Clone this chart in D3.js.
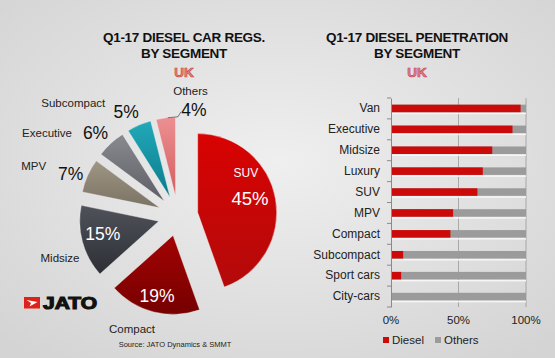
<!DOCTYPE html>
<html>
<head>
<meta charset="utf-8">
<script src="https://cdn.jsdelivr.net/npm/d3@7"></script>
<style>
  body { margin: 0; }
  svg { display: block; font-family: "Liberation Sans", Arial, sans-serif; }
</style>
</head>
<body>
<svg id="chart" width="555" height="358"></svg>
<script>
// pie data: diesel registrations by segment
const segments = ["SUV", "Compact", "Midsize", "MPV", "Executive", "Subcompact", "Others"];
const shares = [45, 19, 15, 7, 6, 5, 4];

// bar data: diesel penetration by segment (% diesel)
const barCategories = ["Van", "Executive", "Midsize", "Luxury", "SUV", "MPV", "Compact", "Subcompact", "Sport cars", "City-cars"];
const dieselShare = [96, 90, 75, 68, 64, 46, 44, 9, 7.5, 0.5];
const xTicks = [0, 50, 100];

const svg = d3.select("#chart");
const defs = svg.append("defs");

// background
const bg = defs.append("radialGradient").attr("id", "bg").attr("cx", "50%").attr("cy", "45%").attr("r", "70%");
bg.append("stop").attr("offset", "0%").attr("stop-color", "#efefef");
bg.append("stop").attr("offset", "100%").attr("stop-color", "#d4d4d4");
svg.append("rect").attr("width", 555).attr("height", 358).attr("fill", "url(#bg)");

// titles
function title(x, lines) {
    let t = svg.append("g").attr("text-anchor", "middle");
    lines.forEach(function (l, i) {
        t.append("text").attr("x", x).attr("y", 42 + i * 16)
            .attr("font-size", 13.5).attr("font-weight", "bold").attr("fill", "#111")
            .attr("letter-spacing", -0.3).text(l);
    });
    t.append("text").attr("x", x).attr("y", 76.5)
        .attr("font-size", 13.5).attr("font-weight", "bold")
        .attr("fill", "#e5878a").attr("stroke", "#c8474b").attr("stroke-width", 0.7)
        .text("UK");
}
title(184, ["Q1-17 DIESEL CAR REGS.", "BY SEGMENT"]);
title(417, ["Q1-17 DIESEL PENETRATION", "BY SEGMENT"]);

// ---------- pie ----------
const cx = 178, cy = 216, radius = 79, explode = 20;
const sliceColors = [
    ["#d90202", "#b30a0a"],
    ["#a30303", "#760000"],
    ["#50525b", "#2d2f35"],
    ["#9f9684", "#7a7263"],
    ["#898a8f", "#5e5f64"],
    ["#22a9b9", "#0a7b8b"],
    ["#ec9091", "#d45c60"]
];
sliceColors.forEach(function (c, i) {
    let g = defs.append("linearGradient").attr("id", "sl" + i)
        .attr("x1", 0).attr("y1", 0).attr("x2", 0).attr("y2", 1);
    g.append("stop").attr("offset", "0%").attr("stop-color", c[0]);
    g.append("stop").attr("offset", "100%").attr("stop-color", c[1]);
});

const pie = d3.pie().sort(null).value(d => d);
const arcs = pie(shares);
const arc = d3.arc().innerRadius(0).outerRadius(radius);

function offset(d, r) {
    let a = (d.startAngle + d.endAngle) / 2;
    return [Math.sin(a) * r, -Math.cos(a) * r];
}

const pieG = svg.append("g").attr("transform", "translate(" + cx + "," + cy + ")");
pieG.selectAll("path.slice")
    .data(arcs)
    .enter()
    .append("path")
    .attr("class", "slice")
    .attr("transform", d => "translate(" + offset(d, explode) + ")")
    .attr("d", arc)
    .attr("fill", (d, i) => "url(#sl" + i + ")")
    .attr("stroke", "#f4f4f4")
    .attr("stroke-opacity", 0.5)
    .attr("stroke-width", 0.8);

// inside labels (big slices): r from centre, extra dx/dy nudges
const insideStyle = {
    0: { r: 75, dx: -2, dy: -5 },
    1: { r: 77, dx: -2, dy: 4 },
    2: { r: 77, dx: -1, dy: -3 }
};
[0, 1, 2].forEach(function (i) {
    let s = insideStyle[i];
    let p = offset(arcs[i], s.r);
    let px = p[0] + s.dx, py = p[1] + s.dy;
    if (i == 0) {
        pieG.append("text").attr("x", px - 4).attr("y", py - 21)
            .attr("text-anchor", "middle").attr("font-size", 12).attr("fill", "#fff")
            .text(segments[i]);
    }
    pieG.append("text").attr("x", px).attr("y", py + 7)
        .attr("text-anchor", "middle").attr("font-size", i == 0 ? 18.5 : 17.5).attr("fill", "#fff")
        .text(shares[i] + "%");
});

// outside name labels for big slices
pieG.append("text").attr("x", 132 - cx).attr("y", 333 - cy).attr("text-anchor", "middle")
    .attr("font-size", 11.5).attr("fill", "#222").text(segments[1]);
pieG.append("text").attr("x", 60 - cx).attr("y", 262 - cy).attr("text-anchor", "middle")
    .attr("font-size", 11.5).attr("fill", "#222").text(segments[2]);

// outside labels (small slices): percent on an outer arc, name beside it
const labelStyle = {
    3: { r: 116, dx: -1.5, dy: 5, nx: -37, ny: -3.5 },
    4: { r: 120, dx: -1, dy: 4.5, nx: -48.5, ny: 4.5 },
    5: { r: 115, dx: -6.5, dy: 1.5, nx: -53, ny: -5 },
    6: { r: 105, dx: 29, dy: -2, nx: -3.5, ny: -15 }
};
[3, 4, 5, 6].forEach(function (i) {
    let s = labelStyle[i];
    let p = offset(arcs[i], s.r);
    let px = p[0] + s.dx, py = p[1] + s.dy;
    pieG.append("text").attr("x", px).attr("y", py + 6.5)
        .attr("text-anchor", "middle").attr("font-size", 17.5).attr("fill", "#111")
        .text(shares[i] + "%");
    pieG.append("text").attr("x", px + s.nx).attr("y", py + s.ny)
        .attr("text-anchor", "middle").attr("font-size", 11.5).attr("fill", "#222")
        .text(segments[i]);
});
// leader line for Others
{
    let a = offset(arcs[6], explode + radius);
    let s = labelStyle[6];
    let p = offset(arcs[6], s.r);
    let px = p[0] + s.dx, py = p[1] + s.dy;
    pieG.append("path")
        .attr("d", "M" + (a[0] + 2) + "," + a[1] + "L" + (px - 16) + "," + (a[1] - 1) + "L" + (px - 13) + "," + (py + 2))
        .attr("fill", "none").attr("stroke", "#555").attr("stroke-width", 0.8);
}

// logo
const logo = svg.append("g").attr("transform", "translate(24,297)");
logo.append("rect").attr("width", 16).attr("height", 11.5).attr("fill", "#e0201b");
logo.append("path").attr("d", "M2.5,3 L13.5,5 L5.5,9.5 L7,6 Z").attr("fill", "#fff");
logo.append("text").attr("x", 19).attr("y", 11.5).attr("font-size", 16.5).attr("font-weight", "bold")
    .attr("fill", "#111").attr("stroke", "#111").attr("stroke-width", 1.1)
    .attr("textLength", 54).attr("lengthAdjust", "spacingAndGlyphs").text("JATO");

svg.append("text").attr("x", 175).attr("y", 347).attr("text-anchor", "middle")
    .attr("font-size", 7.5).attr("fill", "#222").text("Source: JATO Dynamics & SMMT");

// ---------- bars ----------
const x = d3.scaleLinear().domain([0, 100]).range([391, 526]);
const y = d3.scaleBand().domain(barCategories).range([98, 307]).paddingInner(0.64).paddingOuter(0.32);

const barG = svg.append("g");

// gridlines
barG.selectAll("line.grid")
    .data(xTicks.slice(1))
    .enter()
    .append("line")
    .attr("x1", d => x(d)).attr("x2", d => x(d))
    .attr("y1", 98).attr("y2", 307)
    .attr("stroke", "#9a9a9a").attr("stroke-width", 0.8);

const rows = barG.selectAll("g.row")
    .data(barCategories)
    .enter()
    .append("g");

rows.append("rect")
    .attr("x", x(0))
    .attr("y", d => y(d) + y.bandwidth() + 0.5)
    .attr("width", x(100) - x(0))
    .attr("height", 1.5)
    .attr("fill", "#f6f6f6");
rows.append("rect")
    .attr("x", x(0))
    .attr("y", d => y(d))
    .attr("width", x(100) - x(0))
    .attr("height", y.bandwidth())
    .attr("fill", "#9b9b9b");
rows.append("rect")
    .attr("x", x(0))
    .attr("y", d => y(d))
    .attr("width", (d, i) => x(dieselShare[i]) - x(0))
    .attr("height", y.bandwidth())
    .attr("fill", "#cc0a0a");

// y axis
const yAxis = d3.axisLeft(y).tickSize(0).tickPadding(11);
const yG = barG.append("g").attr("transform", "translate(" + x(0) + ",0)").call(yAxis);
yG.select(".domain").attr("stroke", "#8a8a8a");
yG.selectAll("text").attr("font-size", 12).attr("fill", "#222").attr("font-family", "Liberation Sans, Arial");
barG.selectAll("line.ytick")
    .data(d3.range(barCategories.length + 1))
    .enter()
    .append("line")
    .attr("x1", x(0) - 4).attr("x2", x(0))
    .attr("y1", i => 98 + i * y.step()).attr("y2", i => 98 + i * y.step())
    .attr("stroke", "#8a8a8a");

// x labels
barG.selectAll("text.xl")
    .data(xTicks)
    .enter()
    .append("text")
    .attr("x", d => x(d)).attr("y", 324)
    .attr("text-anchor", "middle").attr("font-size", 11.5).attr("fill", "#222")
    .text(d => d + "%");

// legend
const legend = [["Diesel", "#cc0a0a", 383], ["Others", "#9b9b9b", 435]];
legend.forEach(function (l) {
    barG.append("rect").attr("x", l[2]).attr("y", 337).attr("width", 6).attr("height", 6).attr("fill", l[1]);
    barG.append("text").attr("x", l[2] + 9).attr("y", 343.5).attr("font-size", 11.5).attr("fill", "#222").text(l[0]);
});
</script>
</body>
</html>
